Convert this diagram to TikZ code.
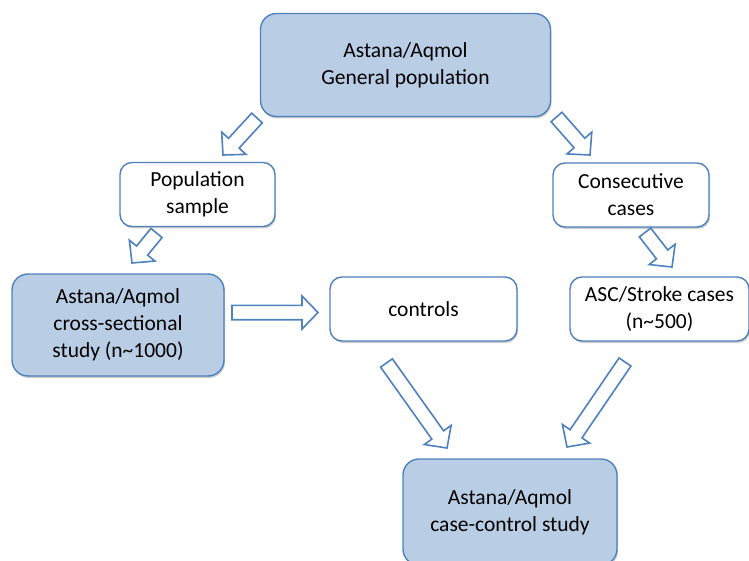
\documentclass[tikz,border=0pt]{standalone}
\usepackage{fontspec}
\setmainfont{Carlito}
\usetikzlibrary{calc,shadows}
\definecolor{boxfill}{HTML}{B9CDE5}
\definecolor{boxline}{HTML}{4F81BD}
\tikzset{
  basebox/.style={draw=boxline, line width=1.4pt, align=center, inner sep=0pt,
    font=\fontsize{21.5}{26.8}\selectfont, text=black,
    drop shadow={shadow xshift=1pt, shadow yshift=-2pt, opacity=0.2, fill=black}},
  bluebox/.style={basebox, fill=boxfill, rounded corners=16pt},
  whitebox/.style={basebox, fill=white, rounded corners=12pt},
  barrow/.style={draw=boxline, fill=white, line width=1.6pt, line join=miter}
}
\newcommand\blockarr[2]{%
  \coordinate (bah) at ($(#2)!16pt!(#1)$);
  \draw[barrow] ($(#1)!7.2pt!90:(#2)$) -- ($(bah)!7.2pt!90:(#2)$) -- ($(bah)!16.5pt!90:(#2)$) -- (#2)
    -- ($(bah)!16.5pt!-90:(#2)$) -- ($(bah)!7.2pt!-90:(#2)$) -- ($(#1)!7.2pt!-90:(#2)$) -- cycle;}
\begin{document}
\begin{tikzpicture}[x=1pt,y=-1pt]
\useasboundingbox (0,0) rectangle (749,561);
% boxes
\node[bluebox, minimum width=290pt, minimum height=103pt] (top) at (405.5,65) {Astana/Aqmol\\General population};
\node[whitebox, minimum width=155pt, minimum height=64pt] (pop) at (197.5,194.5) {Population\\sample};
\node[whitebox, minimum width=156pt, minimum height=64pt] (cons) at (631,195) {Consecutive\\cases};
\node[bluebox, minimum width=212pt, minimum height=102pt] (cross) at (118,325) {Astana/Aqmol\\cross-sectional\\study (n\textasciitilde1000)};
\node[whitebox, minimum width=187pt, minimum height=64pt] (ctrl) at (423.5,309) {controls};
\node[whitebox, minimum width=179pt, minimum height=64pt] (asc) at (659.5,309) {ASC/Stroke cases\\(n\textasciitilde500)};
\node[bluebox, minimum width=214pt, minimum height=106pt] (cc) at (510,512) {Astana/Aqmol\\case-control study};
% arrow end points
\coordinate (a1s) at (257,118); \coordinate (a1e) at (223,155);
\coordinate (a2s) at (156.5,233); \coordinate (a2e) at (132,263);
\coordinate (a3s) at (556.5,117); \coordinate (a3e) at (590,155);
\coordinate (a4s) at (645,232.5); \coordinate (a4e) at (672,267);
\coordinate (a5s) at (232,312.5); \coordinate (a5e) at (318,312.5);
\coordinate (a6s) at (386.5,363); \coordinate (a6e) at (447,448);
\coordinate (a7s) at (625,362); \coordinate (a7e) at (567,447);
\blockarr{a1s}{a1e}
\blockarr{a2s}{a2e}
\blockarr{a3s}{a3e}
\blockarr{a4s}{a4e}
\blockarr{a5s}{a5e}
\blockarr{a6s}{a6e}
\blockarr{a7s}{a7e}
\end{tikzpicture}
\end{document}
